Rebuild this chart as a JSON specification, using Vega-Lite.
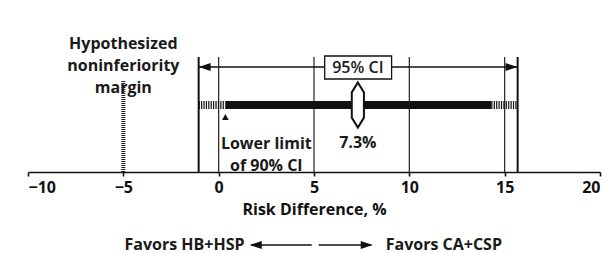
{
  "$schema": "https://vega.github.io/schema/vega-lite/v6.json",
  "width": 572,
  "height": 172,
  "autosize": {"type": "none"},
  "padding": {"left": 28, "right": 12, "top": 0, "bottom": 81},
  "background": "white",
  "config": {
    "view": {"stroke": null},
    "text": {"font": "Open Sans", "fontSize": 16, "fontWeight": "bold", "color": "#1a1a1a"},
    "axis": {"labelFont": "Open Sans", "titleFont": "Open Sans"}
  },
  "datasets": {
    "ci": [{"lo95": -1.05, "lo90": 0.35, "est": 7.3, "hi90": 14.3, "hi95": 15.68}],
    "refLines": [{"x": 0}, {"x": 5}, {"x": 10}, {"x": 15}],
    "margin": [{"x": -5}],
    "one": [{}]
  },
  "layer": [
    {
      "data": {"name": "refLines"},
      "mark": {"type": "rule", "strokeWidth": 1.2, "color": "#222"},
      "encoding": {
        "x": {"field": "x", "type": "quantitative", "scale": {"domain": [-10, 20], "nice": false, "zero": false},
          "axis": {"values": [-10, -5, 0, 5, 10, 15, 20], "title": ["Risk Difference, %"], "grid": false,
            "domainColor": "#111", "domainWidth": 1.6, "tickColor": "#111", "tickWidth": 1.6, "tickSize": 4,
            "labelFontSize": 16, "labelFontWeight": "bold", "labelColor": "#111", "labelPadding": 3,
            "titleFontSize": 16, "titleFontWeight": "bold", "titleColor": "#111", "titlePadding": 6}},
        "y": {"datum": 0, "type": "quantitative", "scale": {"domain": [0, 17.2], "nice": false, "zero": false}, "axis": null},
        "y2": {"datum": 11.5}
      }
    },
    {
      "data": {"name": "ci"},
      "mark": {"type": "rule", "strokeWidth": 2, "color": "#111"},
      "encoding": {
        "x": {"field": "lo95", "type": "quantitative", "scale": {"domain": [-10, 20], "nice": false, "zero": false}},
        "y": {"datum": 0, "type": "quantitative", "scale": {"domain": [0, 17.2], "nice": false, "zero": false}},
        "y2": {"datum": 11.5}
      }
    },
    {
      "data": {"name": "ci"},
      "mark": {"type": "rule", "strokeWidth": 2, "color": "#111"},
      "encoding": {
        "x": {"field": "hi95", "type": "quantitative", "scale": {"domain": [-10, 20], "nice": false, "zero": false}},
        "y": {"datum": 0, "type": "quantitative", "scale": {"domain": [0, 17.2], "nice": false, "zero": false}},
        "y2": {"datum": 11.5}
      }
    },
    {
      "data": {"name": "ci"},
      "mark": {"type": "rule", "strokeWidth": 1.3, "color": "#111"},
      "encoding": {
        "x": {"field": "lo95", "type": "quantitative", "scale": {"domain": [-10, 20], "nice": false, "zero": false}},
        "x2": {"field": "hi95"},
        "y": {"datum": 10.5, "type": "quantitative", "scale": {"domain": [0, 17.2], "nice": false, "zero": false}}
      }
    },
    {
      "data": {"name": "ci"},
      "mark": {"type": "point", "shape": "M0,0L2,-0.65L2,0.65Z", "size": 144, "filled": true, "color": "#111", "opacity": 1},
      "encoding": {
        "x": {"field": "lo95", "type": "quantitative", "scale": {"domain": [-10, 20], "nice": false, "zero": false}},
        "y": {"datum": 10.5, "type": "quantitative", "scale": {"domain": [0, 17.2], "nice": false, "zero": false}}
      }
    },
    {
      "data": {"name": "ci"},
      "mark": {"type": "point", "shape": "M0,0L-2,-0.65L-2,0.65Z", "size": 144, "filled": true, "color": "#111", "opacity": 1},
      "encoding": {
        "x": {"field": "hi95", "type": "quantitative", "scale": {"domain": [-10, 20], "nice": false, "zero": false}},
        "y": {"datum": 10.5, "type": "quantitative", "scale": {"domain": [0, 17.2], "nice": false, "zero": false}}
      }
    },
    {
      "data": {"name": "one"},
      "mark": {"type": "rect", "fill": "white", "stroke": "#111", "strokeWidth": 1.3},
      "encoding": {
        "x": {"datum": 5.56, "type": "quantitative", "scale": {"domain": [-10, 20], "nice": false, "zero": false}},
        "x2": {"datum": 9.07},
        "y": {"datum": 9.3, "type": "quantitative", "scale": {"domain": [0, 17.2], "nice": false, "zero": false}},
        "y2": {"datum": 11.6}
      }
    },
    {
      "data": {"name": "ci"},
      "mark": {"type": "text", "text": "95% CI", "baseline": "middle", "align": "center", "fontWeight": 600},
      "encoding": {
        "x": {"field": "est", "type": "quantitative", "scale": {"domain": [-10, 20], "nice": false, "zero": false}},
        "y": {"datum": 10.45, "type": "quantitative", "scale": {"domain": [0, 17.2], "nice": false, "zero": false}}
      }
    },
    {
      "data": {"name": "ci"},
      "mark": {"type": "rule", "strokeWidth": 8, "strokeDash": [1.2, 1.2], "strokeCap": "butt", "color": "#111"},
      "encoding": {
        "x": {"field": "lo95", "type": "quantitative", "scale": {"domain": [-10, 20], "nice": false, "zero": false}},
        "x2": {"field": "lo90"},
        "y": {"datum": 6.7, "type": "quantitative", "scale": {"domain": [0, 17.2], "nice": false, "zero": false}}
      }
    },
    {
      "data": {"name": "ci"},
      "mark": {"type": "rule", "strokeWidth": 8, "strokeDash": [1.2, 1.2], "strokeCap": "butt", "color": "#111"},
      "encoding": {
        "x": {"field": "hi90", "type": "quantitative", "scale": {"domain": [-10, 20], "nice": false, "zero": false}},
        "x2": {"field": "hi95"},
        "y": {"datum": 6.7, "type": "quantitative", "scale": {"domain": [0, 17.2], "nice": false, "zero": false}}
      }
    },
    {
      "data": {"name": "ci"},
      "mark": {"type": "rule", "strokeWidth": 8, "strokeCap": "butt", "color": "#111"},
      "encoding": {
        "x": {"field": "lo90", "type": "quantitative", "scale": {"domain": [-10, 20], "nice": false, "zero": false}},
        "x2": {"field": "hi90"},
        "y": {"datum": 6.7, "type": "quantitative", "scale": {"domain": [0, 17.2], "nice": false, "zero": false}}
      }
    },
    {
      "data": {"name": "ci"},
      "mark": {"type": "point", "shape": "M0,-1L0.27,-0.56L0.27,0.56L0,1L-0.27,0.56L-0.27,-0.56Z", "size": 2025, "filled": true, "fill": "white", "stroke": "#111", "strokeWidth": 2, "opacity": 1},
      "encoding": {
        "x": {"field": "est", "type": "quantitative", "scale": {"domain": [-10, 20], "nice": false, "zero": false}},
        "y": {"datum": 6.7, "type": "quantitative", "scale": {"domain": [0, 17.2], "nice": false, "zero": false}}
      }
    },
    {
      "data": {"name": "ci"},
      "mark": {"type": "point", "shape": "triangle-up", "size": 45, "filled": true, "color": "#111", "opacity": 1},
      "encoding": {
        "x": {"field": "lo90", "type": "quantitative", "scale": {"domain": [-10, 20], "nice": false, "zero": false}},
        "y": {"datum": 5.5, "type": "quantitative", "scale": {"domain": [0, 17.2], "nice": false, "zero": false}}
      }
    },
    {
      "data": {"name": "one"},
      "mark": {"type": "text", "text": ["Lower limit", "of 90% CI"], "lineHeight": 22, "baseline": "middle", "align": "center"},
      "encoding": {
        "x": {"datum": 2.5, "type": "quantitative", "scale": {"domain": [-10, 20], "nice": false, "zero": false}},
        "y": {"datum": 2.8, "type": "quantitative", "scale": {"domain": [0, 17.2], "nice": false, "zero": false}}
      }
    },
    {
      "data": {"name": "ci"},
      "mark": {"type": "text", "text": "7.3%", "baseline": "middle", "align": "center"},
      "encoding": {
        "x": {"field": "est", "type": "quantitative", "scale": {"domain": [-10, 20], "nice": false, "zero": false}},
        "y": {"datum": 2.9, "type": "quantitative", "scale": {"domain": [0, 17.2], "nice": false, "zero": false}}
      }
    },
    {
      "data": {"name": "margin"},
      "mark": {"type": "rule", "strokeWidth": 4, "strokeDash": [1, 1], "strokeCap": "butt", "color": "#222"},
      "encoding": {
        "x": {"field": "x", "type": "quantitative", "scale": {"domain": [-10, 20], "nice": false, "zero": false}},
        "y": {"datum": 0, "type": "quantitative", "scale": {"domain": [0, 17.2], "nice": false, "zero": false}},
        "y2": {"datum": 9.2}
      }
    },
    {
      "data": {"name": "margin"},
      "mark": {"type": "text", "text": ["Hypothesized", "noninferiority", "margin"], "lineHeight": 22, "baseline": "middle", "align": "center"},
      "encoding": {
        "x": {"field": "x", "type": "quantitative", "scale": {"domain": [-10, 20], "nice": false, "zero": false}},
        "y": {"datum": 12.8, "type": "quantitative", "scale": {"domain": [0, 17.2], "nice": false, "zero": false}}
      }
    },
    {
      "data": {"name": "one"},
      "mark": {"type": "text", "text": "Favors HB+HSP", "baseline": "middle", "align": "right"},
      "encoding": {
        "x": {"datum": 1.36, "type": "quantitative", "scale": {"domain": [-10, 20], "nice": false, "zero": false}},
        "y": {"datum": -7.25, "type": "quantitative", "scale": {"domain": [0, 17.2], "nice": false, "zero": false}}
      }
    },
    {
      "data": {"name": "one"},
      "mark": {"type": "text", "text": "Favors CA+CSP", "baseline": "middle", "align": "left"},
      "encoding": {
        "x": {"datum": 8.76, "type": "quantitative", "scale": {"domain": [-10, 20], "nice": false, "zero": false}},
        "y": {"datum": -7.25, "type": "quantitative", "scale": {"domain": [0, 17.2], "nice": false, "zero": false}}
      }
    },
    {
      "data": {"name": "one"},
      "mark": {"type": "rule", "strokeWidth": 1.3, "color": "#111"},
      "encoding": {
        "x": {"datum": 1.7, "type": "quantitative", "scale": {"domain": [-10, 20], "nice": false, "zero": false}},
        "x2": {"datum": 4.88},
        "y": {"datum": -7.3, "type": "quantitative", "scale": {"domain": [0, 17.2], "nice": false, "zero": false}}
      }
    },
    {
      "data": {"name": "one"},
      "mark": {"type": "rule", "strokeWidth": 1.3, "color": "#111"},
      "encoding": {
        "x": {"datum": 5.24, "type": "quantitative", "scale": {"domain": [-10, 20], "nice": false, "zero": false}},
        "x2": {"datum": 8.0},
        "y": {"datum": -7.3, "type": "quantitative", "scale": {"domain": [0, 17.2], "nice": false, "zero": false}}
      }
    },
    {
      "data": {"name": "one"},
      "mark": {"type": "point", "shape": "M0,0L2,-0.65L2,0.65Z", "size": 144, "filled": true, "color": "#111", "opacity": 1},
      "encoding": {
        "x": {"datum": 1.63, "type": "quantitative", "scale": {"domain": [-10, 20], "nice": false, "zero": false}},
        "y": {"datum": -7.3, "type": "quantitative", "scale": {"domain": [0, 17.2], "nice": false, "zero": false}}
      }
    },
    {
      "data": {"name": "one"},
      "mark": {"type": "point", "shape": "M0,0L-2,-0.65L-2,0.65Z", "size": 144, "filled": true, "color": "#111", "opacity": 1},
      "encoding": {
        "x": {"datum": 8.08, "type": "quantitative", "scale": {"domain": [-10, 20], "nice": false, "zero": false}},
        "y": {"datum": -7.3, "type": "quantitative", "scale": {"domain": [0, 17.2], "nice": false, "zero": false}}
      }
    }
  ]
}
